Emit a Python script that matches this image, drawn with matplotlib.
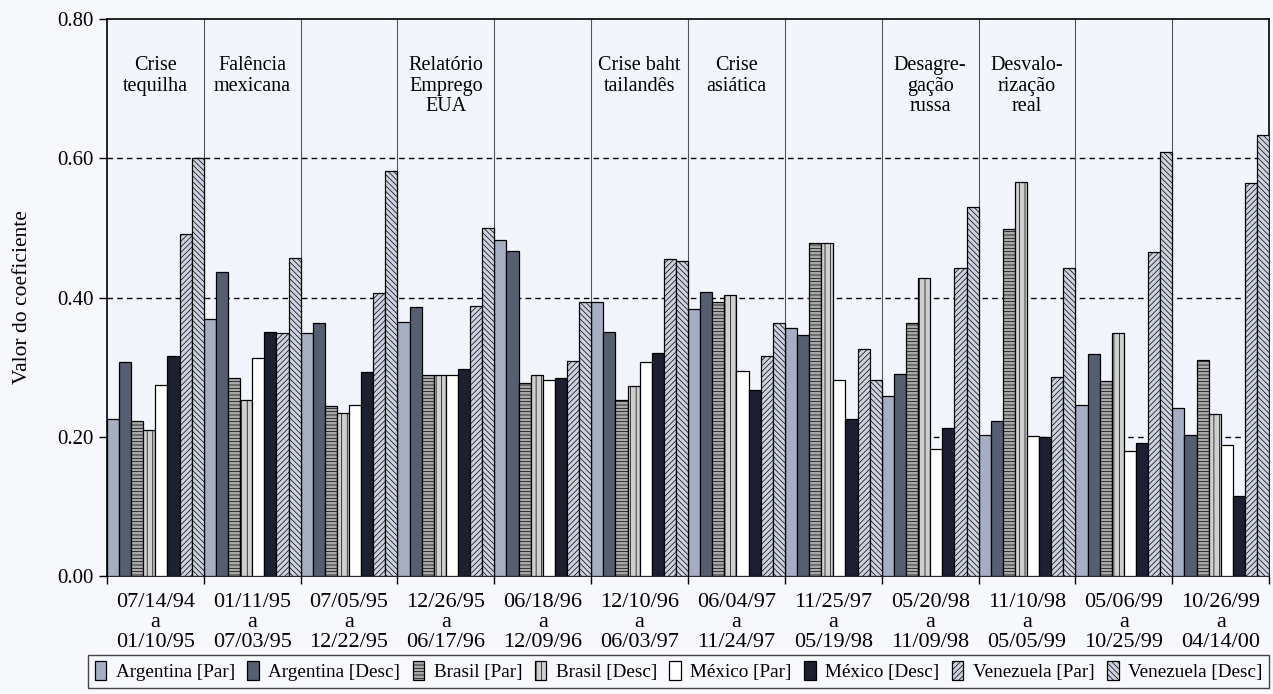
import numpy as np
import matplotlib.pyplot as plt

plt.rcParams['font.family'] = ['Liberation Serif', 'DejaVu Serif']
plt.rcParams['hatch.linewidth'] = 0.5

periods = ["07/14/94\na\n01/10/95", "01/11/95\na\n07/03/95", "07/05/95\na\n12/22/95",
           "12/26/95\na\n06/17/96", "06/18/96\na\n12/09/96", "12/10/96\na\n06/03/97",
           "06/04/97\na\n11/24/97", "11/25/97\na\n05/19/98", "05/20/98\na\n11/09/98",
           "11/10/98\na\n05/05/99", "05/06/99\na\n10/25/99", "10/26/99\na\n04/14/00"]

eventos = ["Crise\ntequilha", "Falência\nmexicana", "", "Relatório\nEmprego\nEUA", "",
           "Crise baht\ntailandês", "Crise\nasiática", "", "Desagre-\ngação\nrussa",
           "Desvalo-\nrização\nreal", "", ""]

arg_par = [0.225, 0.369, 0.349, 0.365, 0.482, 0.393, 0.383, 0.356, 0.259, 0.202, 0.246, 0.241]
arg_desc = [0.307, 0.436, 0.364, 0.386, 0.467, 0.351, 0.408, 0.346, 0.290, 0.223, 0.319, 0.202]
bra_par = [0.223, 0.285, 0.244, 0.288, 0.277, 0.253, 0.393, 0.478, 0.364, 0.499, 0.280, 0.310]
bra_desc = [0.210, 0.253, 0.234, 0.289, 0.289, 0.273, 0.403, 0.479, 0.428, 0.566, 0.349, 0.232]
mex_par = [0.274, 0.313, 0.245, 0.288, 0.281, 0.307, 0.294, 0.281, 0.182, 0.201, 0.180, 0.188]
mex_desc = [0.316, 0.350, 0.293, 0.298, 0.285, 0.320, 0.267, 0.226, 0.212, 0.199, 0.191, 0.115]
ven_par = [0.491, 0.349, 0.407, 0.388, 0.309, 0.456, 0.316, 0.326, 0.443, 0.286, 0.465, 0.564]
ven_desc = [0.601, 0.457, 0.582, 0.500, 0.393, 0.452, 0.363, 0.281, 0.530, 0.442, 0.609, 0.634]

series = [
    ("Argentina [Par]", arg_par, "#a6aec4", None),
    ("Argentina [Desc]", arg_desc, "#565e72", None),
    ("Brasil [Par]", bra_par, "#a9a9a9", "-----"),
    ("Brasil [Desc]", bra_desc, "#cfcfcf", "|||"),
    ("México [Par]", mex_par, "#ffffff", None),
    ("México [Desc]", mex_desc, "#1c2030", None),
    ("Venezuela [Par]", ven_par, "#ccd2df", "//////"),
    ("Venezuela [Desc]", ven_desc, "#ccd2df", "\\\\\\\\\\\\"),
]

fig = plt.figure(figsize=(12.73, 6.94), dpi=100, facecolor="#f6f8fc")
ax = fig.add_axes([0.084, 0.17, 0.913, 0.8026])
ax.set_facecolor("#f2f5fb")

x = np.arange(len(periods))
w = 1 / 8
for i, (name, vals, col, hatch) in enumerate(series):
    ax.bar(x - 0.5 + w * (i + 0.5), vals, width=w, color=col, edgecolor="black",
           linewidth=0.9, hatch=hatch, label=name, zorder=3)

ax.set_xlim(-0.5, len(periods) - 0.5)
ax.set_ylim(0, 0.8)

# separadores dos periodos
for b in np.arange(0.5, len(periods) - 0.5):
    ax.axvline(b, color="#555555", lw=0.8, zorder=2)
for y in [0.2, 0.4, 0.6]:
    ax.axhline(y, color="black", lw=1, ls=(0, (4, 3)), zorder=1)

for i, ev in enumerate(eventos):
    if ev:
        ax.text(i, 0.747, ev, ha="center", va="top", fontsize=14.5, linespacing=1.12)

ax.set_yticks([0, 0.2, 0.4, 0.6, 0.8])
ax.set_yticklabels(["0.00", "0.20", "0.40", "0.60", "0.80"], fontsize=15)
ax.set_ylabel("Valor do coeficiente", fontsize=15.5, labelpad=18)

ax.set_xticks(x)
ax.set_xticklabels(periods, fontsize=16, linespacing=1.1)
ax.tick_params(axis="x", which="major", length=0, pad=12)
ax.set_xticks(np.arange(-0.5, len(periods)), minor=True)
ax.tick_params(axis="x", which="minor", length=6, width=1)
ax.tick_params(axis="y", length=6, width=1)

for s in ax.spines.values():
    s.set_linewidth(1.2)

fig.legend(loc="lower left", bbox_to_anchor=(0.069, 0.009, 0.928, 0.055), mode="expand",
           ncol=8, fontsize=13.8, handlelength=0.6, handleheight=1.1, handletextpad=0.5,
           columnspacing=0.8, borderaxespad=0, fancybox=False, edgecolor="#444444",
           framealpha=1, facecolor="#f8f9fc", borderpad=0.35)

fig.savefig("out.png", dpi=100, facecolor=fig.get_facecolor())
